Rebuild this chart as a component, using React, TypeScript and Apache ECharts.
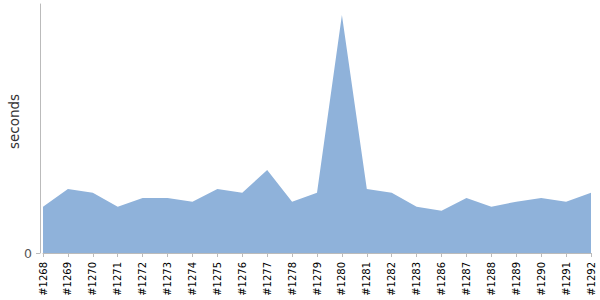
import React, { useEffect, useRef } from "react";
import * as echarts from "echarts";

const categories = [
  "#1268", "#1269", "#1270", "#1271", "#1272", "#1273", "#1274", "#1275",
  "#1276", "#1277", "#1278", "#1279", "#1280", "#1281", "#1282", "#1283",
  "#1286", "#1287", "#1288", "#1289", "#1290", "#1291", "#1292",
];

const seconds = [
  18.6, 25.7, 24.2, 18.6, 22.1, 22.1, 20.6, 25.7,
  24.2, 33.3, 20.6, 24.2, 95.6, 25.7, 24.2, 18.6,
  17.0, 22.1, 18.6, 20.6, 22.1, 20.6, 24.2,
];

const yMin = 0;
const yMax = 100;
const yTickValues = [0];
const yAxisName = "seconds";

export default function App() {
  const ref = useRef<HTMLDivElement>(null);
  useEffect(() => {
    if (!ref.current) return;
    const chart = echarts.init(ref.current, undefined, { renderer: "svg" });
    chart.setOption({
      animation: false,
      grid: { left: 43, right: 9, top: 4, bottom: 47 },
      graphic: [
        {
          type: "text",
          x: 14,
          y: 121.5,
          rotation: Math.PI / 2,
          style: {
            text: yAxisName,
            fill: "#333",
            fontSize: 13.5,
            fontFamily: "DejaVu Sans",
            align: "center",
            verticalAlign: "middle",
          },
        },
      ],
      xAxis: {
        type: "category",
        data: categories,
        boundaryGap: false,
        offset: 4,
        axisLine: { show: true, lineStyle: { color: "#bbb", width: 1 } },
        axisTick: { show: true, length: 4, lineStyle: { color: "#bbb" }, alignWithLabel: true },
        axisLabel: {
          rotate: 90,
          interval: 0,
          margin: 5,
          color: "#000",
          fontSize: 10,
          fontFamily: "DejaVu Sans",
        },
        splitLine: { show: false },
      },
      yAxis: {
        type: "value",
        min: yMin,
        max: yMax,
        interval: 100,
        offset: 3,
        axisLine: { show: true, lineStyle: { color: "#bbb", width: 1 } },
        axisTick: { show: true, length: 4, lineStyle: { color: "#bbb" }, customValues: yTickValues },
        axisLabel: {
          color: "#555",
          fontSize: 12.5,
          fontFamily: "DejaVu Sans",
          margin: 8,
          customValues: yTickValues,
        },
        splitLine: { show: false },
      },
      series: [
        {
          type: "line",
          data: seconds,
          symbol: "none",
          lineStyle: { width: 0 },
          areaStyle: { color: "#8fb2da", opacity: 1 },
        },
      ],
    });
    return () => chart.dispose();
  }, []);
  return <div ref={ref} style={{ width: 600, height: 300, position: "absolute", left: 0, top: 0 }} />;
}
